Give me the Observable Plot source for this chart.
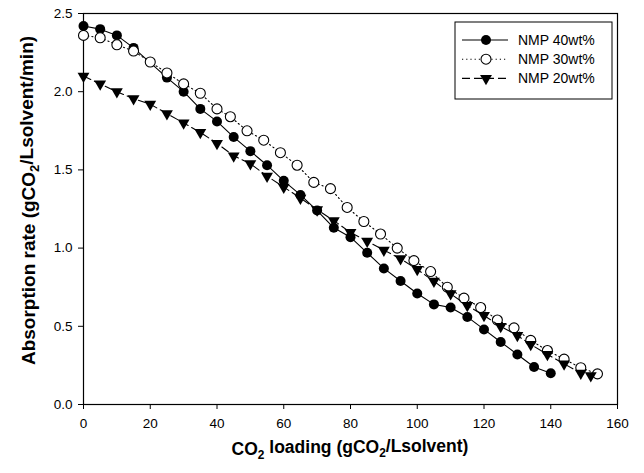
<!DOCTYPE html>
<html><head><meta charset="utf-8">
<script src="https://cdn.jsdelivr.net/npm/d3@7"></script>
<script src="https://cdn.jsdelivr.net/npm/@observablehq/plot@0.6"></script>
<style>
body{margin:0;background:#fff}
svg{font-family:"Liberation Sans",Arial,sans-serif}
</style>
</head><body><div id="chart"></div>
<script>
// CO2 loading (x) and absorption rate (y) per series
const x40 = [0,5,10,15,25,30,35,40,45,50,55,60,65,70,75,80,85,90,95,100,105,110,115,120,125,130,135,140];
const y40 = [2.42,2.40,2.36,2.28,2.09,2.00,1.89,1.81,1.71,1.62,1.53,1.43,1.34,1.24,1.13,1.07,0.97,0.87,0.79,0.71,0.64,0.62,0.56,0.48,0.40,0.32,0.24,0.20];
const x30 = [0,5,10,15,20,25,30,35,40,44,49,54,59,64,69,74,79,84,89,94,99,104,109,114,119,124,129,134,139,144,149,154];
const y30 = [2.36,2.345,2.30,2.26,2.19,2.12,2.05,1.99,1.89,1.84,1.75,1.69,1.61,1.53,1.42,1.38,1.26,1.17,1.09,1.00,0.92,0.85,0.75,0.68,0.62,0.54,0.49,0.41,0.345,0.29,0.235,0.196];
const x20 = [0,5,10,15,20,25,30,35,40,45,50,55,60,65,70,75,80,85,90,95,100,105,110,115,120,125,130,134,139,144,149,152];
const y20 = [2.10,2.05,2.00,1.955,1.92,1.86,1.80,1.74,1.67,1.59,1.54,1.46,1.39,1.32,1.245,1.176,1.10,1.044,0.987,0.932,0.863,0.788,0.708,0.633,0.569,0.50,0.441,0.384,0.32,0.26,0.20,0.185];
const seriesNames = ["NMP 40wt%","NMP 30wt%","NMP 20wt%"];
const xTicks = [0,20,40,60,80,100,120,140,160];
const yTicks = [0,0.5,1.0,1.5,2.0,2.5];

const toRows = (xs, ys) => xs.map((x,i)=>({x, y: ys[i]}));
const d40 = toRows(x40,y40), d30 = toRows(x30,y30), d20 = toRows(x20,y20);

const W = 644, H = 473, mL = 83, mR = 27, mT = 13, mB = 69;

const plot = Plot.plot({
  width: W, height: H,
  marginLeft: mL, marginRight: mR, marginTop: mT, marginBottom: mB,
  style: {fontFamily: '"Liberation Sans",Arial,sans-serif', fontSize: "13.5px", color: "#000", background: "#fff"},
  x: {domain: [0,160]},
  y: {domain: [0,2.5]},
  marks: [
    Plot.frame({stroke: "#000", strokeWidth: 1.2}),
    Plot.axisX({ticks: xTicks, tickSize: 5, tickPadding: 9, label: null, fontSize: 13.5, stroke: "#000", fill: "#000"}),
    Plot.axisY({ticks: yTicks, tickSize: 5, tickPadding: 6, label: null, tickFormat: d3.format(".1f"), fontSize: 13.5, stroke: "#000", fill: "#000"}),
    Plot.line(d40, {x: "x", y: "y", stroke: "#000", strokeWidth: 1.1}),
    Plot.dot(d40, {x: "x", y: "y", r: 5, fill: "#000", stroke: "none"}),
    Plot.line(d30, {x: "x", y: "y", stroke: "#000", strokeWidth: 1.1, strokeDasharray: "1.2,3"}),
    Plot.dot(d30, {x: "x", y: "y", r: 5, fill: "#fff", stroke: "#000", strokeWidth: 1.1}),
    Plot.line(d20, {x: "x", y: "y", stroke: "#000", strokeWidth: 1.1, strokeDasharray: "8,4"}),
    Plot.dot(d20, {x: "x", y: "y", r: 4.4, symbol: "triangle", rotate: 180, fill: "#000", stroke: "none"})
  ]
});
document.getElementById("chart").appendChild(plot);

const svg = d3.select(plot);
// axis titles with subscripts
function addTitle(parts, attrs) {
  const t = svg.append("text").attr("font-weight", "bold").attr("fill", "#000");
  for (const [k,v] of Object.entries(attrs)) t.attr(k, v);
  parts.forEach(p => {
    const s = t.append("tspan").text(p.t);
    if (p.sub) s.attr("font-size", "0.68em").attr("dy", "0.3em");
    if (p.after) s.attr("dy", "-0.3em");
  });
  return t;
}
addTitle([{t:"CO"},{t:"2",sub:true},{t:" loading (gCO",after:true},{t:"2",sub:true},{t:"/Lsolvent)",after:true}],
  {x: (mL + W - mR)/2, y: 455, "text-anchor": "middle", "font-size": "17.5px"});
addTitle([{t:"Absorption rate (gCO"},{t:"2",sub:true},{t:"/Lsolvent/min)",after:true}],
  {transform: `translate(35,${(mT + H - mB)/2 - 8}) rotate(-90)`, "text-anchor": "middle", "font-size": "19px"});

// legend
const lg = svg.append("g").attr("font-size", "14px").attr("text-anchor", "start");
const bx = 455, by = 22, bw = 157, bh = 77;
lg.append("rect").attr("x", bx).attr("y", by).attr("width", bw).attr("height", bh)
  .attr("fill", "#fff").attr("stroke", "#000").attr("stroke-width", 1);
const dashes = [null, "1.2,3", "8,4"];
seriesNames.forEach((name, i) => {
  const cy = by + 18 + i * 19.2;
  const ln = lg.append("line").attr("x1", bx + 7).attr("x2", bx + 53).attr("y1", cy).attr("y2", cy)
    .attr("stroke", "#000").attr("stroke-width", 1.1);
  if (dashes[i]) ln.attr("stroke-dasharray", dashes[i]);
  const mx = bx + 31;
  if (i === 0) lg.append("circle").attr("cx", mx).attr("cy", cy).attr("r", 5).attr("fill", "#000");
  if (i === 1) lg.append("circle").attr("cx", mx).attr("cy", cy).attr("r", 5).attr("fill", "#fff").attr("stroke", "#000").attr("stroke-width", 1.1);
  if (i === 2) lg.append("path").attr("d", d3.symbol(d3.symbolTriangle, Math.PI * 4.4 * 4.4)()).attr("transform", `translate(${mx},${cy}) rotate(180)`).attr("fill", "#000");
  lg.append("text").attr("x", bx + 63).attr("y", cy).attr("dy", "0.35em").attr("text-anchor", "start").attr("fill", "#000").text(name);
});
</script>
</body></html>
